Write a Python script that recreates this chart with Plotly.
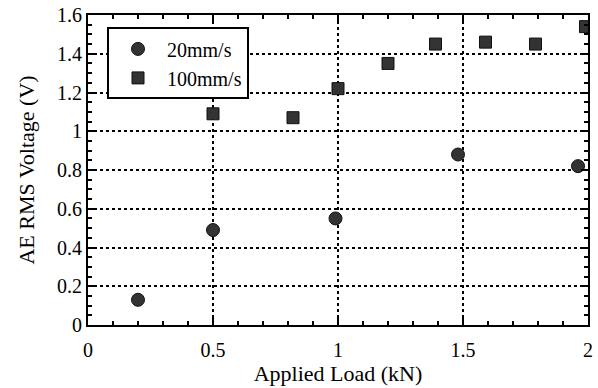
import plotly.graph_objects as go

load_20 = [0.2, 0.5, 0.99, 1.48, 1.96]
rms_20 = [0.13, 0.49, 0.55, 0.88, 0.82]

load_100 = [0.5, 0.82, 1.0, 1.2, 1.39, 1.59, 1.79, 1.99]
rms_100 = [1.09, 1.07, 1.22, 1.35, 1.45, 1.46, 1.45, 1.54]

x_ticks = [0, 0.5, 1, 1.5, 2]
x_labels = ["0", "0.5", "1", "1.5", "2"]
y_ticks = [0, 0.2, 0.4, 0.6, 0.8, 1, 1.2, 1.4, 1.6]
y_labels = ["0", "0.2", "0.4", "0.6", "0.8", "1", "1.2", "1.4", "1.6"]

font = "Liberation Serif"

fig = go.Figure()
fig.add_trace(go.Scatter(x=load_20, y=rms_20, mode="markers", name="20mm/s",
                         marker=dict(symbol="circle", size=13, color="#333333",
                                     line=dict(color="#111", width=1))))
fig.add_trace(go.Scatter(x=load_100, y=rms_100, mode="markers", name="100mm/s",
                         marker=dict(symbol="square", size=12, color="#333333",
                                     line=dict(color="#111", width=1))))

axis_common = dict(showline=True, linecolor="black", linewidth=2, mirror="ticks",
                   ticks="inside", ticklen=7, tickwidth=2, tickcolor="black",
                   showgrid=True, gridcolor="black", griddash="dot", gridwidth=2,
                   zeroline=False, automargin=False,
                   tickfont=dict(family=font, size=20, color="black"))

fig.update_xaxes(range=[0, 2], tickvals=x_ticks, ticktext=x_labels, ticklabelstandoff=6,
                 minor=dict(tickvals=[0.1, 0.2, 0.3, 0.4, 0.6, 0.7, 0.8, 0.9, 1.1, 1.2, 1.3, 1.4, 1.6, 1.7, 1.8, 1.9],
                            ticks="inside", ticklen=4, tickwidth=2, tickcolor="black", showgrid=False),
                 title=dict(text="Applied Load (kN)", font=dict(family=font, size=22, color="black"), standoff=4),
                 **axis_common)
fig.update_yaxes(range=[0, 1.6], tickvals=y_ticks, ticktext=y_labels,
                 minor=dict(dtick=0.05, ticks="inside", ticklen=4, tickwidth=2, tickcolor="black", showgrid=False),
                 title=dict(text="AE RMS Voltage (V)", font=dict(family=font, size=22, color="black"), standoff=16),
                 **axis_common)

fig.update_layout(width=598, height=388, margin=dict(l=88, r=10, t=15, b=63),
                  plot_bgcolor="white", paper_bgcolor="white",
                  font=dict(family=font, color="black"),
                  showlegend=True,
                  legend=dict(x=0.038, y=0.96, xanchor="left", yanchor="top",
                              bgcolor="white", bordercolor="black", borderwidth=2,
                              font=dict(family=font, size=20, color="black"),
                              tracegroupgap=0, itemwidth=48,
                              entrywidth=125, entrywidthmode="pixels"))

fig.write_html("out.html", config={"displayModeBar": False, "staticPlot": True},
               post_script="document.body.style.margin='0';document.body.style.overflow='hidden';")
